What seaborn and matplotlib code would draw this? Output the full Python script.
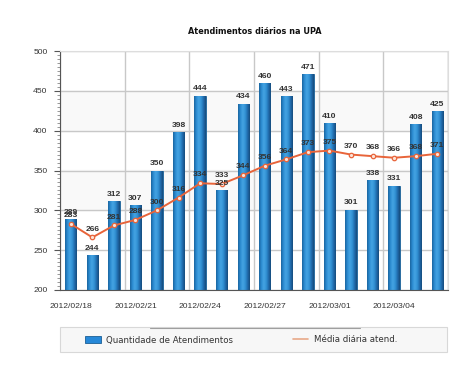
import pandas as pd
import numpy as np
import matplotlib
matplotlib.use('Agg')
import matplotlib.pyplot as plt
import seaborn as sns
from matplotlib.ticker import FixedLocator, MultipleLocator
from matplotlib.lines import Line2D
from matplotlib.patches import Patch, Rectangle
from matplotlib.colors import LinearSegmentedColormap

# ========== 数据 ==========
datas = ['2012/02/18', '2012/02/19', '2012/02/20', '2012/02/21', '2012/02/22',
         '2012/02/23', '2012/02/24', '2012/02/25', '2012/02/26', '2012/02/27',
         '2012/02/28', '2012/02/29', '2012/03/01', '2012/03/02', '2012/03/03',
         '2012/03/04', '2012/03/05', '2012/03/06']
atendimentos = [289, 244, 312, 307, 350, 398, 444, 325, 434, 460,
                443, 471, 410, 301, 338, 331, 408, 425]
media = [283, 266, 281, 288, 300, 316, 334, 333, 344, 356,
         364, 373, 375, 370, 368, 366, 368, 371]

df = pd.DataFrame({'data': datas, 'qtd': atendimentos, 'media': media})

# ========== 风格 ==========
sns.set_style('white')
plt.rcParams['font.family'] = ['DejaVu Sans']

BAR_COLOR = '#2b8ad0'
BAR_EDGE = '#1b5f95'
LINE_COLOR = '#e8643a'
TXT = '#333333'
NUM_FONT = ['Liberation Sans', 'DejaVu Sans']
Y_MIN, Y_MAX = 200, 500

fig = plt.figure(figsize=(4.74, 3.79), dpi=100)
ax = fig.add_axes([60 / 474, 1 - 290 / 379, 388 / 474, 239 / 379])

sns.barplot(data=df, x='data', y='qtd', color=BAR_COLOR, width=0.53,
            saturation=1, edgecolor=BAR_EDGE, linewidth=0.6, ax=ax, zorder=2)

# 柱子渐变效果（用 seaborn 画好的柱子做裁剪）
grad = LinearSegmentedColormap.from_list(
    'bargrad', ['#1a659f', '#2c8cd2', '#45a3e2', '#3393d6', '#216cae', '#154c7c'])
for p in ax.containers[0]:
    bx, bw = p.get_x(), p.get_width()
    by = max(p.get_y(), Y_MIN)
    top = p.get_y() + p.get_height()
    im = ax.imshow(np.linspace(0, 1, 64).reshape(1, -1), cmap=grad,
                   extent=(bx, bx + bw, by, top), aspect='auto',
                   zorder=2.5, interpolation='bilinear')
    im.set_clip_path(p)

# 背景条纹
for lo in (300, 400):
    ax.axhspan(lo, lo + 50, color='#f9f9f9', zorder=0)

x = np.arange(len(df))
ax.plot(x, df['media'], color=LINE_COLOR, lw=1.4, marker='o', ms=3.2,
        mfc='#fbe3d8', mec=LINE_COLOR, mew=0.9, zorder=4)

# 数值标签
for i, v in enumerate(df['qtd']):
    ax.text(i, v + 4, str(v), ha='center', va='bottom', fontsize=6.1,
            color=TXT, fontweight='bold', family=NUM_FONT, zorder=5)
for i, v in enumerate(df['media']):
    ax.text(i, v + 6, str(v), ha='center', va='bottom', fontsize=6.1,
            color=TXT, fontweight='bold', family=NUM_FONT, zorder=5)

# 坐标轴
ax.set_xlim(-0.5, len(df) - 0.5)
ax.set_ylim(Y_MIN, Y_MAX)
ax.set_yticks([200, 250, 300, 350, 400, 450, 500])
ax.yaxis.set_minor_locator(MultipleLocator(5))
ax.set_xticks(np.arange(-0.5, len(df), 3).tolist() + [len(df) - 0.5])
ax.set_xticklabels([])
ax.xaxis.set_minor_locator(FixedLocator(np.arange(0, len(df), 3)))
ax.set_xticklabels(df['data'][::3], minor=True)
ax.tick_params(axis='x', which='minor', length=0, labelsize=6.1, colors=TXT, pad=9)
ax.tick_params(axis='x', which='major', length=4, color='#555555', direction='out')
ax.tick_params(axis='y', which='major', length=4, labelsize=6.1, colors=TXT,
               color='#555555', direction='out', left=True, pad=5)
ax.tick_params(axis='y', which='minor', length=2, color='#888888', left=True)
for lab in ax.get_xticklabels(minor=True) + ax.get_yticklabels():
    lab.set_family(NUM_FONT)
ax.set_xlabel('')
ax.set_ylabel('')

ax.grid(True, axis='both', which='major', color='#c8c8c8', lw=1.0, zorder=1)
ax.set_axisbelow(True)
for s in ('top', 'right'):
    ax.spines[s].set_color('#dddddd')
for s in ('left', 'bottom'):
    ax.spines[s].set_color('#555555')

fig.text(255 / 474, 1 - 32 / 379, 'Atendimentos diários na UPA', ha='center',
         va='center', fontsize=5.9, fontweight='bold', color='#111111')

# 图例（外框单独画）
fig.patches.append(Rectangle((60 / 474, 1 - 352 / 379), 387 / 474, 25 / 379,
                             transform=fig.transFigure, facecolor='#f7f7f7',
                             edgecolor='#d8d8d8', lw=0.8, zorder=0))
fig.lines.append(Line2D([150 / 474, 360 / 474], [1 - 327.5 / 379] * 2,
                        transform=fig.transFigure, color='#666666', lw=0.8,
                        alpha=0.6))
handles = [Patch(facecolor='#2688d8', edgecolor='#1b5f95', lw=0.6),
           Line2D([], [], color='#e8a888', lw=1.2)]
leg = fig.legend(handles, ['Quantidade de Atendimentos', 'Média diária atend.'],
                 loc='center left', ncol=2, bbox_to_anchor=(85 / 474, 1 - 340 / 379),
                 fontsize=6.2, frameon=False, borderpad=0, borderaxespad=0,
                 handlelength=1.8, handleheight=0.8, handletextpad=0.6,
                 columnspacing=7.0)
for t in leg.get_texts():
    t.set_color(TXT)

plt.savefig('out.png', dpi=100)
plt.close()
